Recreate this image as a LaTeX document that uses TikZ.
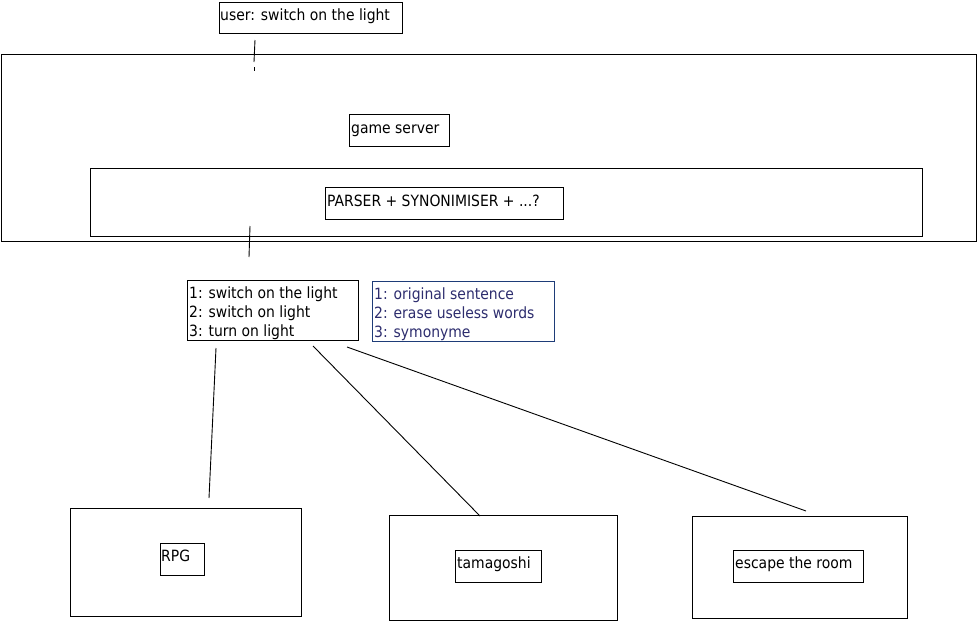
\documentclass[tikz,border=0pt]{standalone}
\usepackage{fontspec}
\setmainfont{DejaVu Sans Condensed}
\definecolor{noteborder}{RGB}{30,60,120}
\definecolor{notetext}{RGB}{45,45,110}
\begin{document}
\begin{tikzpicture}[x=1pt,y=-1pt,
  box/.style={draw=black,line width=1pt,inner sep=0pt,outer sep=0pt},
  lbl/.style={inner sep=0pt,anchor=base west,font=\fontsize{15.5}{19}\selectfont},
  conn/.style={draw=black,line width=0.9pt}]
\useasboundingbox (0,0) rectangle (977,621);
% boxes
\node[box,minimum width=183,minimum height=31] (userbox) at (310.5,17.5) {};
\node[box,minimum width=975,minimum height=187] (server) at (488.5,147.5) {};
\node[box,minimum width=100,minimum height=32] (gsbox) at (399,130) {};
\node[box,minimum width=832,minimum height=68] (inner) at (506,202) {};
\node[box,minimum width=238,minimum height=32] (parser) at (444,203) {};
\node[box,minimum width=171,minimum height=60] (list) at (272.5,310) {};
\node[box,draw=noteborder,minimum width=182,minimum height=60] (note) at (463,311) {};
\node[box,minimum width=231,minimum height=108] (rpg) at (185.5,562) {};
\node[box,minimum width=44,minimum height=32] (rpgin) at (182,559) {};
\node[box,minimum width=228,minimum height=105] (tama) at (503,567.5) {};
\node[box,minimum width=86,minimum height=32] (tamain) at (498,566) {};
\node[box,minimum width=215,minimum height=102] (esc) at (799.5,567) {};
\node[box,minimum width=130,minimum height=32] (escin) at (798,566) {};
% texts
\node[lbl] (usert) at (220,20) {user: switch on the light};
\node[lbl] (gst) at (351,133) {game server};
\node[lbl] (parsert) at (327,206) {PARSER + SYNONIMISER + ...?};
\node[lbl] (l1) at (189,298) {1: switch on the light};
\node[lbl] (l2) at (189,317) {2: switch on light};
\node[lbl] (l3) at (189,336) {3: turn on light};
\node[lbl,text=notetext] (n1) at (374,299) {1: original sentence};
\node[lbl,text=notetext] (n2) at (374,318) {2: erase useless words};
\node[lbl,text=notetext] (n3) at (374,337) {3: symonyme};
\node[lbl] (rpgt) at (161,561) {RPG};
\node[lbl] (tamat) at (457,568) {tamagoshi};
\node[lbl] (esct) at (735,568) {escape the room};
% connector ends
\coordinate (u1) at (255,40);
\coordinate (u2) at (254,62);
\coordinate (u3) at (254,67);
\coordinate (u4) at (254,71);
\coordinate (p1) at (250,226);
\coordinate (p2) at (249,257);
\coordinate (a1) at (216,348);
\coordinate (a2) at (209,498);
\coordinate (b1) at (313,346);
\coordinate (b2) at (480,516);
\coordinate (c1) at (347,347);
\coordinate (c2) at (806,511);
\draw[conn] (u1) -- (u2);
\draw[conn] (u3) -- (u4);
\draw[conn] (p1) -- (p2);
\draw[conn] (a1) -- (a2);
\draw[conn] (b1) -- (b2);
\draw[conn] (c1) -- (c2);
\end{tikzpicture}
\end{document}
